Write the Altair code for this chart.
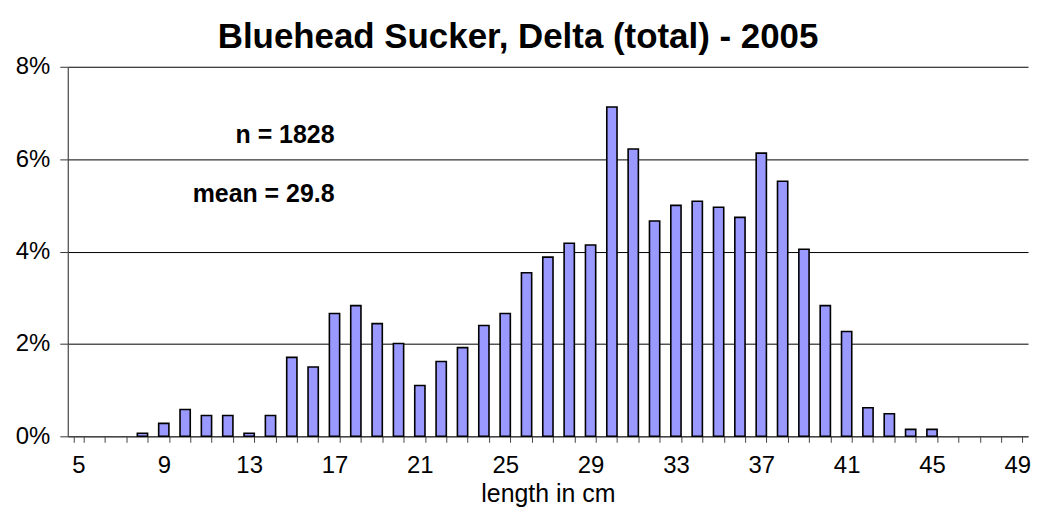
import altair as alt
import pandas as pd

lengths = [str(v) for v in range(5, 50)]
pct = [0, 0, 0, 0.065, 0.28, 0.58, 0.45, 0.45, 0.065, 0.45,
       1.71, 1.50, 2.66, 2.83, 2.44,
       2.01, 1.10, 1.62, 1.92, 2.40, 2.66,
       3.54, 3.88, 4.18, 4.14,
       7.13, 6.22, 4.66, 5.00, 5.09,
       4.96, 4.74, 6.13, 5.52, 4.05,
       2.83, 2.27, 0.62, 0.49, 0.15, 0.15,
       0, 0, 0, 0]
x_label_values = ["5", "9", "13", "17", "21", "25", "29", "33", "37", "41", "45", "49"]
y_ticks = [0, 0.02, 0.04, 0.06, 0.08]

annot_text = ["n = 1828", "mean = 29.8"]
annot_x = ["17", "17"]
annot_y = [0.0652, 0.0525]

df = pd.DataFrame({"length": lengths, "share": [p / 100 for p in pct]})
ann = pd.DataFrame({"label": annot_text, "length": annot_x, "share": annot_y})

FONT = "Arial, Liberation Sans, sans-serif"
label_expr = "indexof(" + str(x_label_values) + ", datum.value) >= 0 ? datum.label : ''"

x_enc = alt.X(
    "length:N",
    sort=lengths,
    scale=alt.Scale(domain=lengths, paddingInner=0.52, paddingOuter=0.26),
    axis=alt.Axis(
        title="length in cm",
        titleFont=FONT, titleFontSize=25, titleFontWeight="normal", titleColor="black",
        titlePadding=4,
        labelFont=FONT, labelFontSize=24, labelColor="black", labelAngle=0,
        labelExpr=label_expr, labelPadding=11,
        tickBand="extent", tickSize=6, tickColor="#444444", tickWidth=1,
        domainColor="#444444", domainWidth=1, grid=False,
    ),
)

bars = alt.Chart(df).transform_filter("datum.share > 0").mark_bar(
    color="#9999FF", stroke="black", strokeWidth=1.6
).encode(
    x=x_enc,
    y=alt.Y(
        "share:Q",
        scale=alt.Scale(domain=[0, 0.08], nice=False),
        axis=alt.Axis(
            title=None, format="%", values=y_ticks,
            labelFont=FONT, labelFontSize=24, labelColor="black", labelPadding=10,
            tickSize=8, tickColor="#333333", domainColor="#444444", domainWidth=1.2,
            grid=True, gridColor="black", gridWidth=1,
        ),
    ),
)

texts = alt.Chart(ann).mark_text(
    align="right", baseline="middle", font=FONT, fontSize=25, fontWeight="bold", color="black"
).encode(
    x=alt.X("length:N", sort=lengths),
    y=alt.Y("share:Q"),
    text="label:N",
)

chart = alt.layer(bars, texts).properties(
    width=964,
    height=371,
    padding={"left": 60, "top": 58, "right": 5, "bottom": 80},
    autosize=alt.AutoSizeParams(type="none"),
    title=alt.TitleParams(
        "Bluehead Sucker, Delta (total) - 2005",
        font=FONT, fontSize=35, fontWeight="bold", color="black",
        anchor="middle", dx=-30, offset=0,
    ),
).configure_view(stroke=None)

chart.save("out.html", embed_options={"renderer": "svg", "actions": False})
